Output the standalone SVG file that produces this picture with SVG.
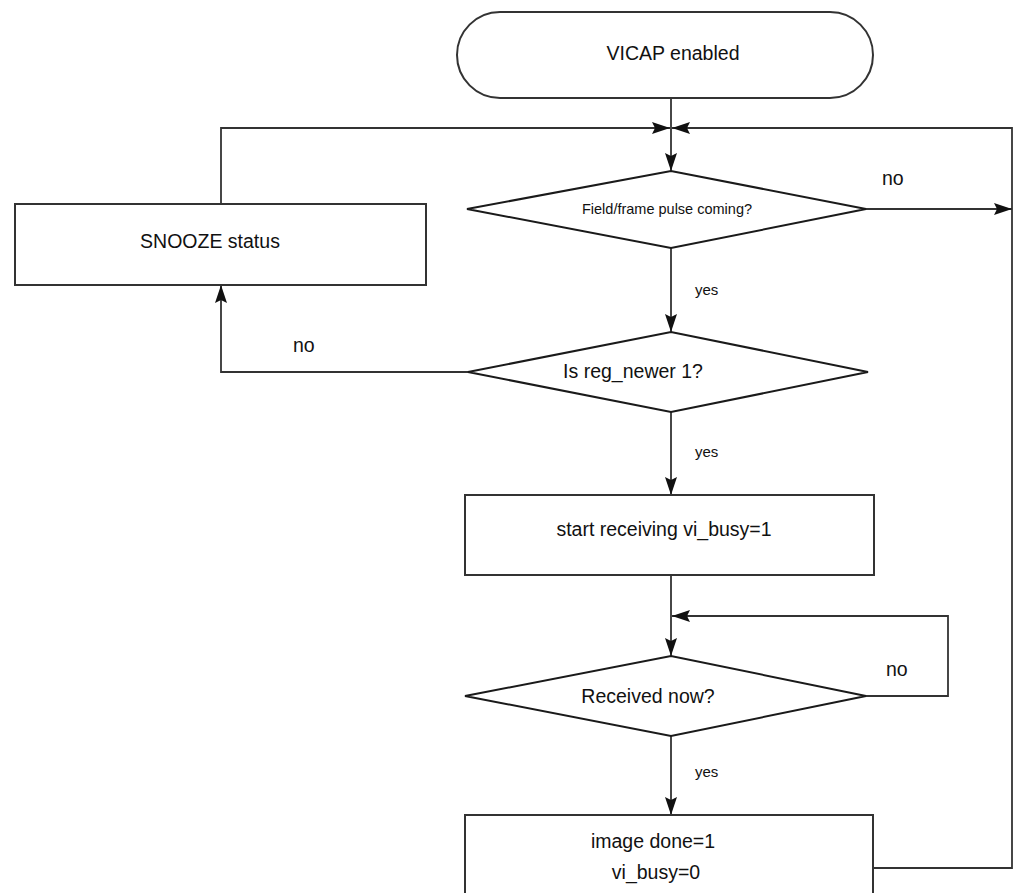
<svg xmlns="http://www.w3.org/2000/svg" width="1014" height="893" viewBox="0 0 1014 893">
  <defs>
    <marker id="arrow" viewBox="0 0 18 12" refX="18" refY="6" markerWidth="18" markerHeight="12" markerUnits="userSpaceOnUse" orient="auto">
      <path d="M0,0 L18,6 L0,12 L3,6 Z" fill="#111"/>
    </marker>
    <style>
      .shape { fill: #fff; stroke: #333; stroke-width: 2; }
      .diamond { fill: #fff; stroke: #1a1a1a; stroke-width: 2; }
      .wire { fill: none; stroke: #333; stroke-width: 1.8; }
      .arrowed { marker-end: url(#arrow); }
      text { font-family: "Liberation Sans", Arial, sans-serif; fill: #111; }
      .main { font-size: 19.5px; }
      .small { font-size: 14.5px; }
      .tag { font-size: 15px; }
      .c { text-anchor: middle; }
    </style>
  </defs>
  <rect width="1014" height="893" fill="#fff"/>

  <!-- connectors -->
  <g id="connectors">
    <!-- start to first decision -->
    <path class="wire arrowed" d="M671,98 V171"/>
    <!-- snooze loops back to the top -->
    <path class="wire arrowed" d="M221,204 V128 H670"/>
    <!-- right-hand return loop from image done -->
    <path class="wire arrowed" d="M873,868 H1012 V128 H672"/>
    <!-- pulse not coming -->
    <path class="wire arrowed" d="M866,209 H1012"/>
    <!-- pulse coming -->
    <path class="wire arrowed" d="M671,248 V332"/>
    <!-- reg_newer not set -->
    <path class="wire arrowed" d="M468,372 H221 V285"/>
    <!-- reg_newer set -->
    <path class="wire arrowed" d="M671,412 V495"/>
    <!-- receiving to check -->
    <path class="wire arrowed" d="M671,575 V656"/>
    <!-- not yet received -->
    <path class="wire arrowed" d="M866,696 H948 V616 H672"/>
    <!-- received -->
    <path class="wire arrowed" d="M671,736 V815"/>

    <text class="main" x="882" y="185">no</text>
    <text class="tag" x="695" y="295">yes</text>
    <text class="main" x="293" y="352">no</text>
    <text class="tag" x="695" y="457">yes</text>
    <text class="main" x="886" y="676">no</text>
    <text class="tag" x="695" y="777">yes</text>
  </g>

  <g id="start">
    <rect class="shape" x="457" y="12" width="416" height="86" rx="43" ry="43"/>
    <text class="main c" x="673" y="60">VICAP enabled</text>
  </g>

  <g id="pulse-check">
    <polygon class="diamond" points="467,209 671,171 866,209 671,248"/>
    <text class="small c" x="667" y="214">Field/frame pulse coming?</text>
  </g>

  <g id="snooze">
    <rect class="shape" x="15" y="204" width="411" height="81"/>
    <text class="main c" x="210" y="248">SNOOZE status</text>
  </g>

  <g id="reg-newer-check">
    <polygon class="diamond" points="468,372 671,332 868,372 671,412"/>
    <text class="main c" x="633" y="378">Is reg_newer 1?</text>
  </g>

  <g id="start-receiving">
    <rect class="shape" x="465" y="495" width="409" height="80"/>
    <text class="main c" x="664" y="536">start receiving vi_busy=1</text>
  </g>

  <g id="received-check">
    <polygon class="diamond" points="465,696 671,656 866,696 671,736"/>
    <text class="main c" x="648" y="703">Received now?</text>
  </g>

  <g id="image-done">
    <rect class="shape" x="465" y="815" width="408" height="95"/>
    <text class="main c" x="653" y="848">image done=1</text>
    <text class="main c" x="656" y="879">vi_busy=0</text>
  </g>
</svg>
